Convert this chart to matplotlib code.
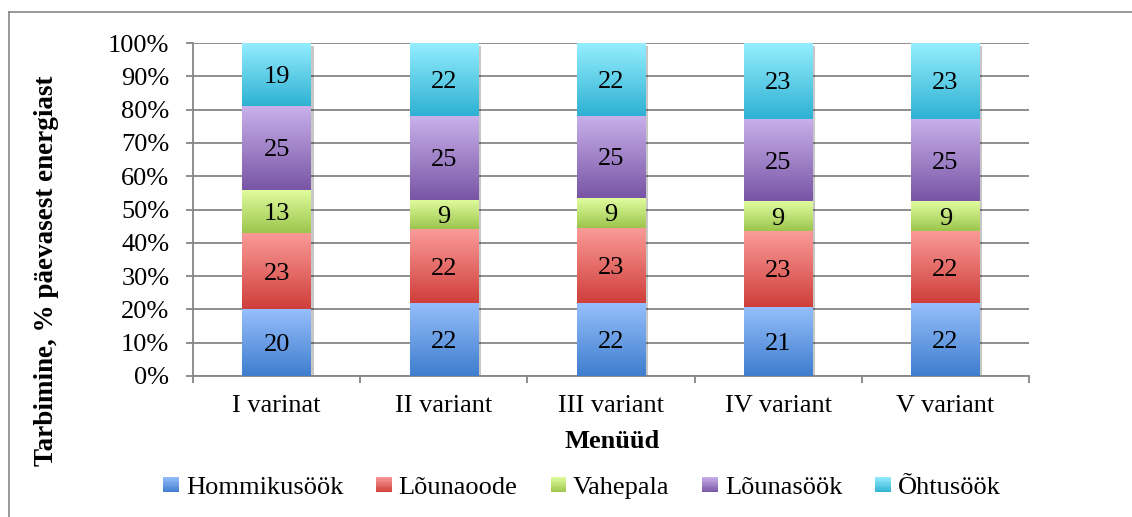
import numpy as np
import matplotlib
matplotlib.use('Agg')
import matplotlib.pyplot as plt
import matplotlib.patheffects as pe
from matplotlib.lines import Line2D
from matplotlib.patches import Rectangle
from matplotlib.legend_handler import HandlerBase
from matplotlib.colors import LinearSegmentedColormap, to_rgb

plt.rcParams['font.family'] = ['Liberation Serif', 'DejaVu Serif']
plt.rcParams['font.size'] = 19

# Menu variants and meal shares (% of daily energy)
categories = ['I varinat', 'II variant', 'III variant', 'IV variant', 'V variant']
series_names = ['Hommikusöök', 'Lõunaoode', 'Vahepala', 'Lõunasöök', 'Õhtusöök']
hommikusook = [20, 22, 22, 21, 22]
lounaoode = [23, 22, 23, 23, 22]
vahepala = [13, 9, 9, 9, 9]
lounasook = [25, 25, 25, 25, 25]
ohtusook = [19, 22, 22, 23, 23]
yticks = list(range(0, 101, 10))

# (top, bottom) colours of each series' vertical gradient
gradients = [
    ('#96BFFC', '#3E7DCD'),
    ('#FB9C99', '#CF3E3A'),
    ('#E1FD9F', '#9CC54C'),
    ('#C9B1EB', '#7855A5'),
    ('#95EEFE', '#2EB1D3'),
]

GRID = '#868686'


class GradientKey:
    def __init__(self, top, bottom):
        self.top = top
        self.bottom = bottom


class GradientHandler(HandlerBase):
    def create_artists(self, legend, orig_handle, xdescent, ydescent,
                       width, height, fontsize, trans):
        side = width
        y0 = -ydescent + (height - side) / 2
        n = 12
        c_top = np.array(to_rgb(orig_handle.top))
        c_bot = np.array(to_rgb(orig_handle.bottom))
        arts = []
        for i in range(n):
            t = (i + 0.5) / n
            c = c_bot * (1 - t) + c_top * t
            r = Rectangle((-xdescent, y0 + i * side / n), side, side / n + 0.05,
                          facecolor=c, edgecolor='none', transform=trans)
            arts.append(r)
        return arts


fig = plt.figure(figsize=(11.32, 5.17), dpi=100)
ax = fig.add_axes([193 / 1132, 1 - 376 / 517, (1029 - 193) / 1132, (376 - 43) / 517])

x = np.arange(len(categories))
data = np.array([hommikusook, lounaoode, vahepala, lounasook, ohtusook], dtype=float)
totals = data.sum(axis=0)
width = 0.41

# white backing bars carry the soft drop shadow
ax.bar(x, np.full(len(x), 100.0), width=width, color='white', zorder=2,
       path_effects=[pe.SimplePatchShadow(offset=(2, -2), shadow_rgbFace='k', alpha=0.22),
                     pe.Normal()])

grad = np.linspace(0, 1, 256).reshape(-1, 1)
bottom = np.zeros(len(x))
for name, vals, (c_top, c_bot) in zip(series_names, data, gradients):
    share = vals / totals * 100
    bars = ax.bar(x, share, width=width, bottom=bottom, color='none',
                  edgecolor='none', zorder=3)
    cmap = LinearSegmentedColormap.from_list(name, [c_bot, c_top])
    for rect, v in zip(bars, vals):
        x0, y0 = rect.get_x(), rect.get_y()
        w, h = rect.get_width(), rect.get_height()
        ax.imshow(grad, cmap=cmap, origin='lower', aspect='auto',
                  interpolation='bilinear', extent=(x0, x0 + w, y0, y0 + h), zorder=3)
        ax.text(x0 + w / 2, y0 + h / 2, f'{int(v)}', ha='center',
                va='center_baseline', zorder=4)
    bottom += share

ax.set_xlim(-0.5, len(x) - 0.5)
ax.set_ylim(0, 100)
ax.set_yticks(yticks)
ax.set_yticklabels([f'{t}%' for t in yticks])
ax.set_xticks(x)
ax.set_xticklabels(categories)
ax.set_xticks(np.arange(len(x) + 1) - 0.5, minor=True)

ax.yaxis.grid(True, color=GRID, lw=1.3)
ax.set_axisbelow(True)
for s in ['top', 'right']:
    ax.spines[s].set_visible(False)
for s in ['left', 'bottom']:
    ax.spines[s].set_color(GRID)
    ax.spines[s].set_linewidth(1.3)
ax.tick_params(axis='y', length=5, width=1.3, color=GRID, pad=12)
ax.tick_params(axis='x', which='major', length=0, pad=14)
ax.tick_params(axis='x', which='minor', length=5, width=1.3, color=GRID)

fig.text(47 / 1132, 1 - 271 / 517, 'Tarbimine, % päevasest energiast',
         rotation=90, ha='center', va='center', fontweight='bold', fontsize=19.5)
fig.text(612 / 1132, 1 - 441 / 517, 'Menüüd', ha='center', va='center',
         fontweight='bold')

handles = [GradientKey(t, b) for t, b in gradients]
fig.legend(handles, series_names, handler_map={GradientKey: GradientHandler()},
           loc='center', bbox_to_anchor=(582 / 1132, 1 - 487 / 517), ncol=5,
           frameon=False, handlelength=0.6, handletextpad=0.25,
           columnspacing=1.25, borderaxespad=0)

# chart border: only the left and top edges fall inside the image
bx, by = 8.5 / 1132, 1 - 11.5 / 517
fig.add_artist(Line2D([bx, bx], [0, by], transform=fig.transFigure, color=GRID, lw=1.2))
fig.add_artist(Line2D([bx, 1], [by, by], transform=fig.transFigure, color=GRID, lw=1.2))

fig.savefig('out.png', dpi=100)
